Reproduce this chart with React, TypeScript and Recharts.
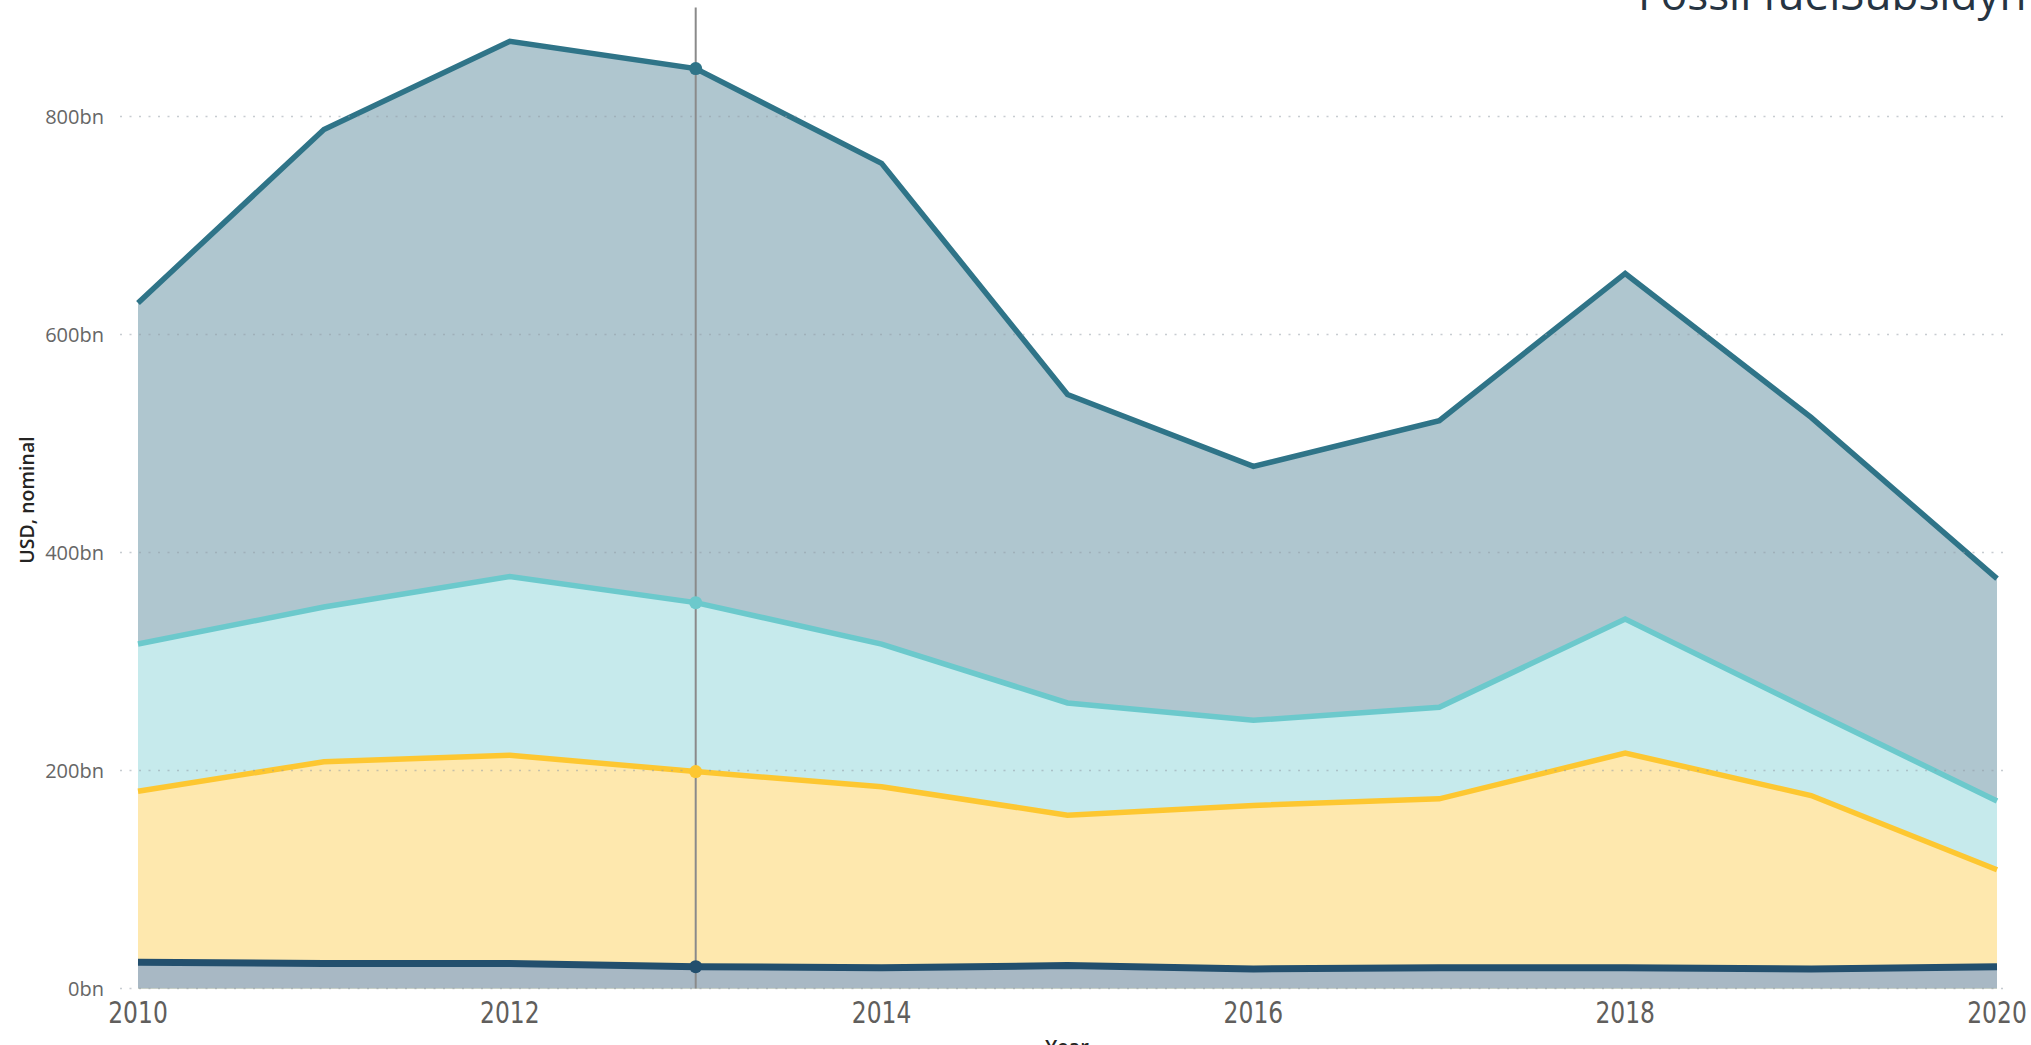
import React from 'react';
import { AreaChart, Area, XAxis, YAxis, ReferenceLine } from 'recharts';

const years = [2010, 2011, 2012, 2013, 2014, 2015, 2016, 2017, 2018, 2019, 2020];
const topLine = [629, 788, 869, 844, 757, 545, 479, 521, 656, 524, 376];
const cyanLine = [316, 350, 378, 354, 316, 262, 246, 258, 339, 255, 172];
const yellowLine = [181, 208, 214, 199, 185, 159, 168, 174, 216, 177, 109];
const navyLine = [24, 23, 23, 20, 19, 21, 18, 19, 19, 18, 20];
const yTicks = [0, 200, 400, 600, 800];
const xTicks = [2010, 2012, 2014, 2016, 2018, 2020];
const hoverYear = 2013;

const data = years.map((year, i) => ({
  year,
  top: topLine[i],
  cyan: cyanLine[i],
  yellow: yellowLine[i],
  navy: navyLine[i],
}));

const W = 2031;
const H = 1045;

const makeDot = (color: string) => (props: any) => {
  const { cx, cy, payload, index } = props;
  if (payload && payload.year === hoverYear) {
    return <circle key={`d-${index}`} cx={cx} cy={cy} r={6.5} fill={color} stroke="none" />;
  }
  return <g key={`d-${index}`} />;
};

const XTick = (props: any) => {
  const { x, y, payload } = props;
  return (
    <text
      transform={`translate(${x},${y}) scale(0.84,1)`}
      x={0}
      y={0}
      dy="0.74em"
      textAnchor="middle"
      fill="#605e5c"
      fontSize={31}
      fontFamily='"DejaVu Sans Condensed", "DejaVu Sans", sans-serif'
    >
      {payload.value}
    </text>
  );
};

const series = [
  { key: 'top', line: '#2f7488', fill: '#afc6cf', width: 5.5 },
  { key: 'cyan', line: '#6cc9cc', fill: '#c6eaec', width: 5.5 },
  { key: 'yellow', line: '#fdc731', fill: '#fee8ae', width: 5.5 },
  { key: 'navy', line: '#234f6d', fill: '#a8b8c4', width: 7 },
];

export default function App() {
  return (
    <div style={{ position: 'absolute', left: 0, top: 0, width: W, height: H, overflow: 'hidden', background: '#fff' }}>
      <AreaChart width={W} height={H} data={data} margin={{ top: 7.5, right: 25, bottom: 0, left: 0 }}>
        <XAxis
          dataKey="year"
          type="number"
          domain={[2010, 2020]}
          ticks={xTicks}
          padding={{ left: 18, right: 9 }}
          axisLine={false}
          tickLine={false}
          tickSize={6}
          tickMargin={6}
          height={56.5}
          interval={0}
          tick={<XTick />}
        />
        <YAxis
          type="number"
          domain={[0, 900]}
          ticks={yTicks}
          width={120}
          axisLine={false}
          tickLine={false}
          tickSize={6}
          tickMargin={10}
          tickFormatter={(v: number) => `${v}bn`}
          tick={{ fill: '#666666', fontSize: 20, fontFamily: '"Segoe UI", "Open Sans", sans-serif' }}
        />
        {series.map((s) => (
          <Area
            key={s.key}
            type="linear"
            dataKey={s.key}
            stroke={s.line}
            strokeWidth={s.width}
            fill={s.fill}
            fillOpacity={1}
            isAnimationActive={false}
            dot={makeDot(s.line)}
            activeDot={false}
          />
        ))}
        {yTicks.map((t) => (
          <ReferenceLine key={`g-${t}`} y={t} stroke="#8f9aa3" strokeOpacity={0.5} strokeWidth={1.5} strokeDasharray="2 7.5" />
        ))}
        <ReferenceLine x={hoverYear} stroke="#8a8a8a" strokeWidth={2} />
      </AreaChart>
      <svg width={W} height={H} style={{ position: 'absolute', left: 0, top: 0, pointerEvents: 'none' }}>
        <text x={1638} y={10} fontSize={44} fill="#263442" fontFamily='"Segoe UI", "Open Sans", sans-serif'>
          Fossil fuelSubsidyn
        </text>
        <text
          x={26}
          y={500}
          transform="rotate(-90, 26, 500)"
          textAnchor="middle"
          dominantBaseline="central"
          fontSize={19.5}
          fontWeight={600}
          fill="#252423"
          fontFamily='"Segoe UI", "Open Sans", sans-serif'
        >
          USD, nominal
        </text>
        <text x={1067} y={1054} textAnchor="middle" fontSize={20} fontWeight={600} fill="#252423" fontFamily='"Segoe UI", "Open Sans", sans-serif'>
          Year
        </text>
      </svg>
    </div>
  );
}
